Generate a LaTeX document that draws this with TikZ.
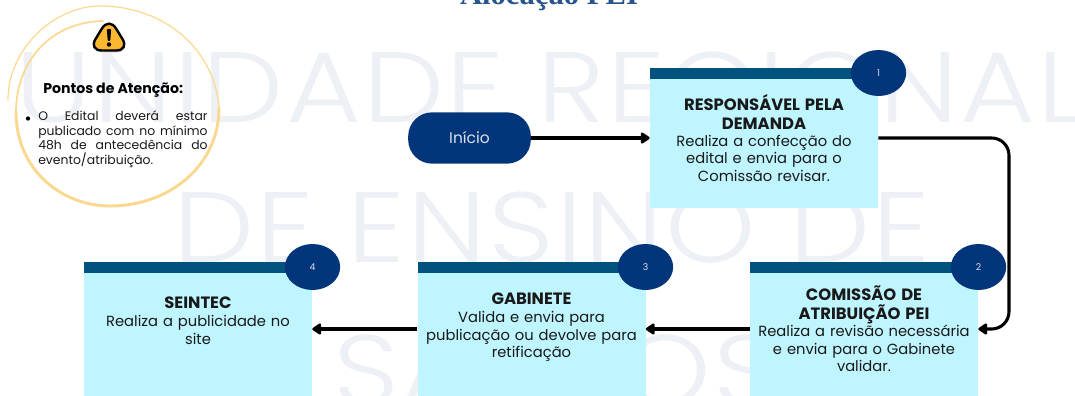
\documentclass[tikz,border=0pt]{standalone}
\usepackage{fontspec}
\usetikzlibrary{arrows.meta,shapes.geometric}
\setmainfont{Poppins}
\newfontfamily\wmfont[LetterSpace=2,FakeStretch=1.15]{Poppins Light}
\newfontfamily\titlefont{Liberation Serif}
\newcommand{\bhead}[1]{{\bfseries\fontsize{12.3}{13}\selectfont #1}}
\newcommand{\jline}[1]{\leavevmode\hbox to 127pt{\spaceskip=.1em plus 1fil\relax #1}}
\definecolor{navy}{HTML}{03357A}
\definecolor{headbar}{HTML}{01527F}
\definecolor{boxfill}{HTML}{BFF5FF}
\definecolor{wmark}{HTML}{EDF0F5}
\definecolor{amber}{HTML}{FBB732}
\definecolor{sketch}{HTML}{FBD88F}
\tikzset{
  x=0.75pt,y=-0.75pt,
  stepbox/.style={fill=boxfill,draw=none,minimum width=171pt,inner sep=0pt,text width=170pt,align=center,font=\fontsize{11.05}{13}\selectfont,text=black!90},
  headbar/.style={fill=headbar,draw=none,minimum width=171pt,minimum height=8.2pt,inner sep=0pt},
  badge/.style={ellipse,fill=navy,draw=none,minimum width=41.5pt,minimum height=34.5pt,inner sep=0pt,text=white!85!navy,font=\fontsize{7}{8}\selectfont},
  conn/.style={draw=black,line width=2.3pt,-{Triangle[length=7.5pt,width=9.5pt,round]}},
  wm/.style={text=wmark,font=\wmfont\fontsize{75}{75}\selectfont,inner sep=0pt,anchor=base},
  sketchline/.style={draw=sketch,line cap=round,line join=round}
}
\begin{document}
\begin{tikzpicture}
\useasboundingbox (0,0) rectangle (1075,396);
\clip (0,0) rectangle (1075,396);
% watermark
\node[wm] (wm1) at (551,122) {UNIDADE REGIONAL};
\node[wm] (wm2) at (552,262) {DE ENSINO DE};
\node[wm] (wm3) at (556,405) {SANTOS};
% title
\node[inner sep=0pt,anchor=base,text=navy!85!white,font=\titlefont\bfseries\fontsize{23}{23}\selectfont] (title) at (549,4) {Alocação PEI};
% attention circle
\draw[sketchline,line width=0.9pt] (8,100) .. controls (8,48) and (55,6) .. (100,6) .. controls (165,6) and (215,50) .. (219,108);
\draw[sketchline,line width=1.3pt] (103,21) .. controls (50,22) and (16,62) .. (16,112);
\draw[sketchline,line width=2.2pt] (16,112) .. controls (16,170) and (62,206) .. (110,206) .. controls (170,206) and (219,165) .. (219,108);
% warning icon
\fill[black!15,rounded corners=10pt] (110,20.5) -- (130,52.5) -- (90,52.5) -- cycle;
\draw[draw=black,line width=1.8pt,fill=amber,rounded corners=10pt] (109,17) -- (129.5,50.5) -- (88.5,50.5) -- cycle;
\fill[black,rounded corners=0.7pt] (106.8,29) -- (111.2,29) -- (110.2,41) -- (107.8,41) -- cycle;
\fill[black] (109,44.5) circle (2.2);
\node[inner sep=0pt,anchor=base west,font=\bfseries\fontsize{10.6}{12}\selectfont] (ptitle) at (43,93) {Pontos de Atenção:};
\node[inner sep=0pt,anchor=north west,text width=127pt,align=left,font=\fontsize{9.3}{10.8}\selectfont,text=black!90] (plist) at (38,111) {\jline{O Edital deverá estar}\\\jline{publicado com no mínimo}\\\jline{48h de antecedência do}\\evento/atribuição.};
\node[circle,fill=black,inner sep=0pt,minimum size=3.2pt] (pbullet) at (28,118.5) {};
% start
\node[fill=navy,rounded corners=18pt,minimum width=92pt,minimum height=38.5pt,inner sep=0pt,text=white!85!navy,font=\fontsize{11.6}{13}\selectfont] (inicio) at (469.5,138) {Início};
% boxes
\node[stepbox,minimum height=105pt] (b1) at (764,138) {\bhead{RESPONSÁVEL PELA}\\[1pt]\bhead{DEMANDA}\\Realiza a confecção do\\edital e envia para o\\Comissão revisar.};
\node[stepbox,minimum height=100.5pt] (b2) at (864,329) {\bhead{COMISSÃO DE}\\[1pt]\bhead{ATRIBUIÇÃO PEI}\\Realiza a revisão necessária\\e envia para o Gabinete\\validar.};
\node[stepbox,minimum height=100.5pt] (b3) at (531.5,329) {\bhead{GABINETE}\\[1pt]Valida e envia para\\publicação ou devolve para\\retificação\\[-7pt]\mbox{}};
\node[stepbox,minimum height=100.5pt] (b4) at (198,329) {\bhead{SEINTEC}\\[1pt]Realiza a publicidade no\\site\\\mbox{}};
\node[headbar] (h1) at (764,73.5) {};
\node[headbar] (h2) at (864,267.5) {};
\node[headbar] (h3) at (531.5,267.5) {};
\node[headbar] (h4) at (198,267.5) {};
\node[badge] (n1) at (878.5,73) {1};
\node[badge] (n2) at (978.5,267) {2};
\node[badge] (n3) at (645.5,267) {3};
\node[badge] (n4) at (312.5,267) {4};
% connectors
\coordinate (bend) at (1009,230);
\draw[conn] (inicio.east) -- (b1.west);
\draw[conn,rounded corners=13pt] (b1.east) -- (b1.east -| bend) -- (bend |- b2.east) -- (b2.east);
\draw[conn] (b2.west) -- (b3.east);
\draw[conn] (b3.west) -- (b4.east);
\end{tikzpicture}
\end{document}
